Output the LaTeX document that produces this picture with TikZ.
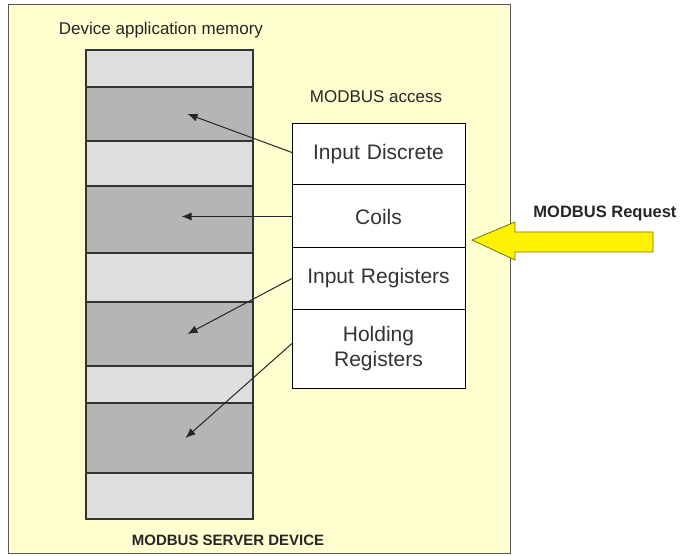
\documentclass[tikz,border=0pt]{standalone}
\usepackage{fontspec}
\setmainfont{Liberation Sans}
\usetikzlibrary{positioning, arrows.meta}
\definecolor{devbg}{RGB}{255,255,208}
\tikzstyle{band} = [rectangle, draw=black!80, line width=1.5pt, minimum width=167pt, inner sep=0pt, outer sep=0pt]
\tikzstyle{lightband} = [band, fill=black!13]
\tikzstyle{darkband} = [band, fill=black!29]
\tikzstyle{regbox} = [rectangle, draw, fill=white, line width=1pt, minimum width=173pt, text width=168pt, align=center, inner sep=0pt, outer sep=0pt, font=\fontsize{21}{25}\selectfont, text=black!80]
\tikzstyle{label} = [font=\fontsize{17}{20}\selectfont, text=black!85]
\tikzstyle{line} = [draw, black!85, -{Latex[length=10pt,width=8pt]}, line width=1pt]

\begin{document}
\begin{tikzpicture}[x=1pt, y=-1pt]
    \useasboundingbox (0,0) rectangle (683,556);
    % Device frame
    \draw [draw=black!65, fill=devbg, line width=1pt] (8,5) rectangle (510,553);
    \node [label] (memtitle) at (161,30) {Device application memory};
    \node [label] (access) at (376,97) {MODBUS access};
    \node [font=\bfseries\fontsize{15}{18}\selectfont, text=black!85] (server) at (228,540) {MODBUS SERVER DEVICE};
    % Memory bands
    \node [lightband, minimum height=37pt, anchor=north] (m1) at (169.5,50) {};
    \node [darkband, minimum height=54pt, below=0pt of m1] (m2) {};
    \node [lightband, minimum height=45pt, below=0pt of m2] (m3) {};
    \node [darkband, minimum height=67pt, below=0pt of m3] (m4) {};
    \node [lightband, minimum height=49pt, below=0pt of m4] (m5) {};
    \node [darkband, minimum height=64pt, below=0pt of m5] (m6) {};
    \node [lightband, minimum height=37pt, below=0pt of m6] (m7) {};
    \node [darkband, minimum height=70pt, below=0pt of m7] (m8) {};
    \node [lightband, minimum height=46pt, below=0pt of m8] (m9) {};
    % Register tables
    \node [regbox, minimum height=61pt, anchor=north] (idisc) at (378.5,124) {Input Discrete};
    \node [regbox, minimum height=63pt, below=0pt of idisc] (coils) {Coils};
    \node [regbox, minimum height=61pt, below=0pt of coils] (iregs) {Input Registers};
    \node [regbox, minimum height=79pt, below=0pt of iregs] (hregs) {Holding\\Registers};
    % Draw edges
    \path [line] ([yshift=2pt]idisc.west) -- ([xshift=18pt]m2.center);
    \path [line] (coils.west) -- ([xshift=12pt,yshift=3pt]m4.center);
    \path [line] (iregs.west) -- ([xshift=18pt]m6.center);
    \path [line] ([yshift=5pt]hregs.west) -- ([xshift=16pt]m8.center);
    % Request arrow
    \coordinate (reqtip) at (472,240);
    \draw [fill=yellow, draw=olive!80!black, line width=0.8pt] (reqtip) -- (515,222) -- (515,232) -- (653,232) -- (653,252) -- (515,252) -- (515,260) -- cycle;
    \node [font=\bfseries\fontsize{16.5}{20}\selectfont, text=black!85] (request) at (605,213) {MODBUS Request};
\end{tikzpicture}
\end{document}
